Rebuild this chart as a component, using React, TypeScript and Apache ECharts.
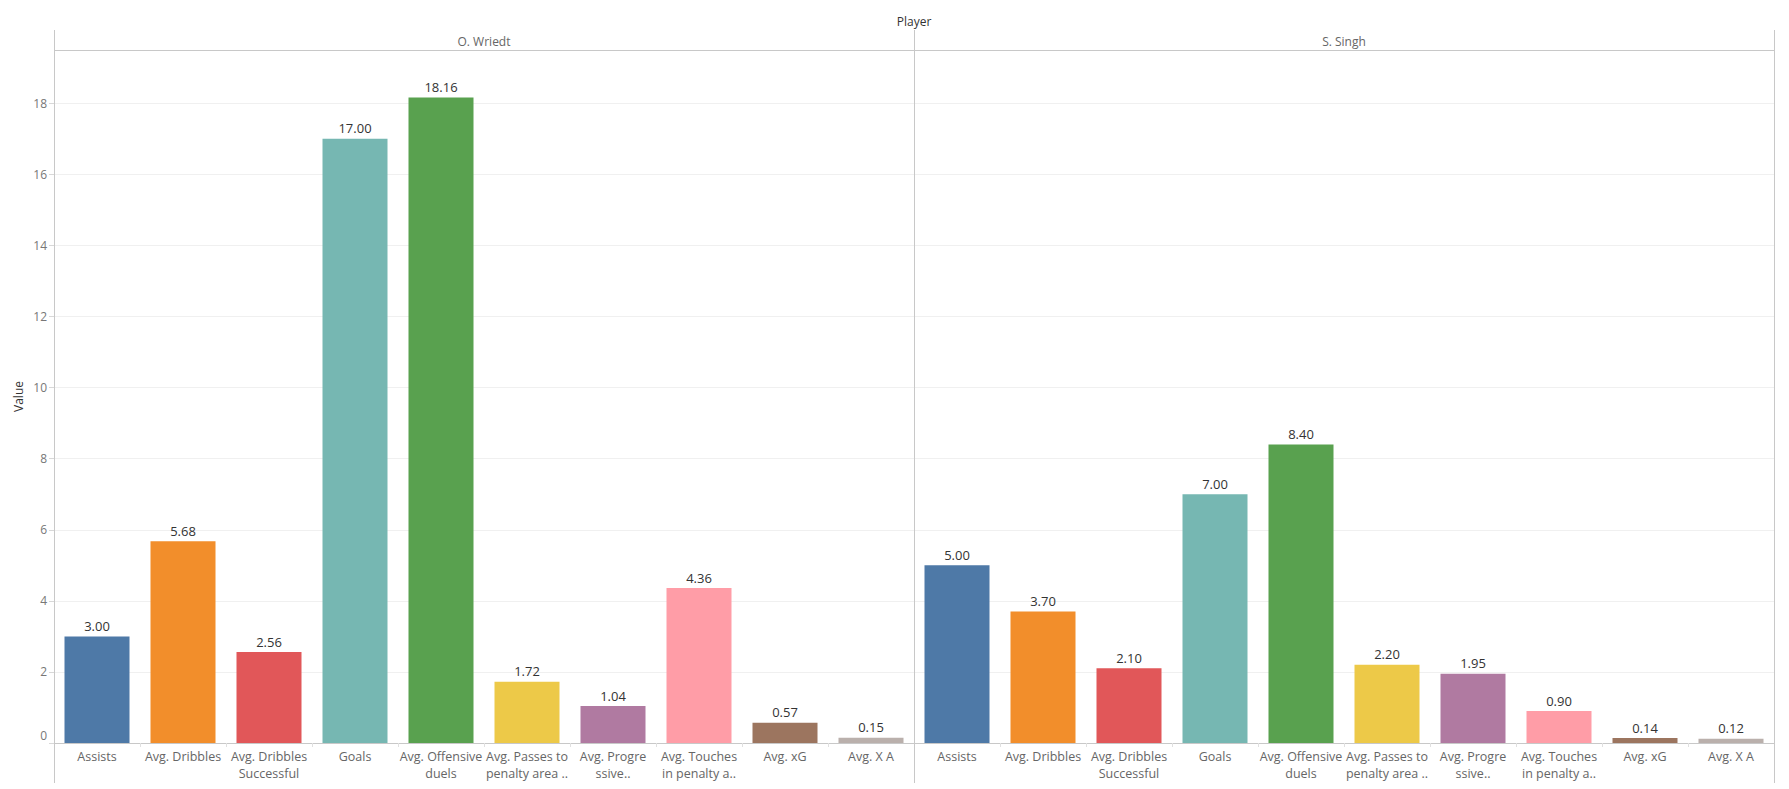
import React, { useEffect, useRef } from "react";
import * as echarts from "echarts";

const categories = [
  "Assists",
  "Avg. Dribbles",
  "Avg. Dribbles\nSuccessful",
  "Goals",
  "Avg. Offensive\nduels",
  "Avg. Passes to\npenalty area ..",
  "Avg. Progre\nssive..",
  "Avg. Touches\nin penalty a..",
  "Avg. xG",
  "Avg. X A",
];

const players = ["O. Wriedt", "S. Singh"];
const wriedtValues = [3.0, 5.68, 2.56, 17.0, 18.16, 1.72, 1.04, 4.36, 0.57, 0.15];
const singhValues = [5.0, 3.7, 2.1, 7.0, 8.4, 2.2, 1.95, 0.9, 0.14, 0.12];
const yTicks = [0, 2, 4, 6, 8, 10, 12, 14, 16, 18];
const colors = [
  "#4e79a7",
  "#f28e2b",
  "#e15759",
  "#76b7b2",
  "#59a14f",
  "#edc948",
  "#b07aa1",
  "#ff9da7",
  "#9c755f",
  "#bab0ac",
];

const FONT = "'Open Sans', 'Noto Sans', sans-serif";

export default function App() {
  const ref = useRef<HTMLDivElement>(null);

  useEffect(() => {
    if (!ref.current) return;
    const chart = echarts.init(ref.current, undefined, { renderer: "svg" });

    const L = 54;
    const W = 860;
    const TOP = 50;
    const BASE = 743;
    const frameTop = 30;
    const frameBottom = 783;
    const lineColor = "#c8c8c8";

    const grids = [0, 1].map((i) => ({
      left: L + i * W,
      width: W,
      top: TOP,
      height: BASE - TOP,
      containLabel: false,
    }));

    const xAxes = [0, 1].map((i) => ({
      type: "category",
      gridIndex: i,
      data: categories,
      axisLine: { show: true, lineStyle: { color: lineColor, width: 1 } },
      axisTick: { show: true, length: 4, lineStyle: { color: "#e0e0e0" } },
      axisLabel: {
        interval: 0,
        color: "#666",
        fontSize: 12.5,
        fontFamily: FONT,
        lineHeight: 17,
        margin: 5,
      },
    }));

    const yAxes = [0, 1].map((i) => ({
      type: "value",
      gridIndex: i,
      min: 0,
      max: 19.5,
      interval: 2,
      name: i === 0 ? "Value" : "",
      nameLocation: "middle",
      nameRotate: 90,
      nameGap: 30,
      nameTextStyle: { color: "#333", fontSize: 12, fontFamily: FONT },
      axisLine: { show: false },
      axisTick: {
        show: i === 0,
        length: 5,
        lineStyle: { color: "#d8d8d8" },
        customValues: yTicks,
      },
      axisLabel: {
        show: i === 0,
        color: "#777",
        fontSize: 12,
        fontFamily: FONT,
        margin: 7,
        customValues: yTicks,
        formatter: (v: number) => (v === 0 ? "{z|0}" : String(v)),
        rich: { z: { padding: [0, 0, 16, 0], color: "#777", fontSize: 12, fontFamily: FONT } },
      },
      splitLine: { show: true, lineStyle: { color: "#f0f0f0", width: 1 } },
    }));

    const series = [wriedtValues, singhValues].map((vals, i) => ({
      type: "bar",
      xAxisIndex: i,
      yAxisIndex: i,
      data: vals,
      barWidth: 65,
      itemStyle: { color: (p: any) => colors[p.dataIndex] },
      label: {
        show: true,
        position: "top",
        distance: 4,
        color: "#333",
        fontSize: 13,
        fontFamily: FONT,
        formatter: (p: any) => Number(p.value).toFixed(2),
      },
    }));

    const vline = (x: number) => ({
      type: "line",
      shape: { x1: x, y1: frameTop, x2: x, y2: frameBottom },
      style: { stroke: lineColor, lineWidth: 1 },
      silent: true,
      z: 10,
    });

    chart.setOption({
      animation: false,
      backgroundColor: "#fff",
      grid: grids,
      xAxis: xAxes,
      yAxis: yAxes,
      series,
      graphic: [
        vline(L + 0.5),
        vline(L + W + 0.5),
        vline(L + 2 * W + 0.5),
        {
          type: "line",
          shape: { x1: L, y1: TOP + 0.5, x2: L + 2 * W, y2: TOP + 0.5 },
          style: { stroke: lineColor, lineWidth: 1 },
          silent: true,
          z: 10,
        },
        {
          type: "text",
          x: L + W,
          y: 21,
          style: {
            text: "Player",
            fill: "#333",
            fontSize: 12,
            fontFamily: FONT,
            textAlign: "center",
            textVerticalAlign: "middle",
          },
        },
        ...players.map((p, i) => ({
          type: "text",
          x: L + W * i + W / 2,
          y: 41,
          style: {
            text: p,
            fill: "#666",
            fontSize: 12,
            fontFamily: FONT,
            textAlign: "center",
            textVerticalAlign: "middle",
          },
        })),
      ],
    });

    return () => chart.dispose();
  }, []);

  return (
    <div
      ref={ref}
      style={{ position: "absolute", left: 0, top: 0, width: 1789, height: 789 }}
    />
  );
}
